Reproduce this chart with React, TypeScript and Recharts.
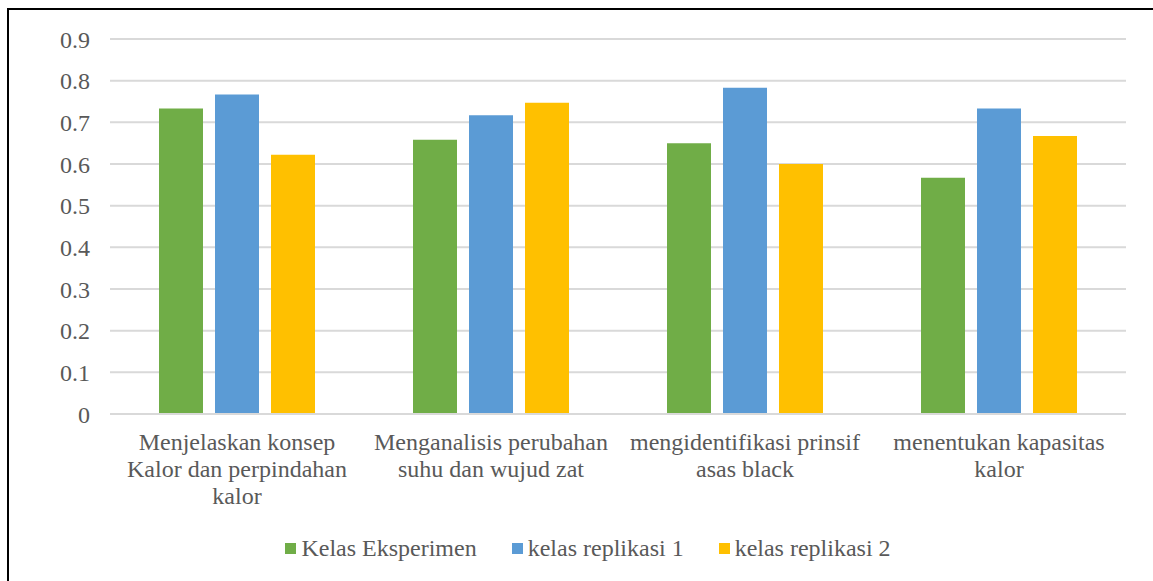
import React from 'react';
import { BarChart, Bar, XAxis, YAxis, CartesianGrid, Legend } from 'recharts';

// Indicator categories (line breaks mark where each label wraps)
const categories = [
  'Menjelaskan konsep\nKalor dan perpindahan\nkalor',
  'Menganalisis perubahan\nsuhu dan wujud zat',
  'mengidentifikasi prinsif\nasas black',
  'menentukan kapasitas\nkalor',
];

const seriesNames = ['Kelas Eksperimen', 'kelas replikasi 1', 'kelas replikasi 2'];

const kelasEksperimen = [0.733, 0.658, 0.65, 0.567];
const kelasReplikasi1 = [0.767, 0.717, 0.783, 0.733];
const kelasReplikasi2 = [0.622, 0.747, 0.6, 0.667];

const yTicks = [0, 0.1, 0.2, 0.3, 0.4, 0.5, 0.6, 0.7, 0.8, 0.9];

const colors = ['#70AD47', '#5B9BD5', '#FFC000'];

const data = categories.map((category, i) => ({
  category,
  eksperimen: kelasEksperimen[i],
  replikasi1: kelasReplikasi1[i],
  replikasi2: kelasReplikasi2[i],
}));

const FONT = '"Liberation Serif", "Times New Roman", serif';
const TEXT = '#595959';

function CategoryTick(props: any) {
  const { x, y, payload } = props;
  const lines = String(payload.value).split('\n');
  return (
    <g>
      {lines.map((line: string, i: number) => (
        <text
          key={i}
          x={x}
          y={y + 36 + i * 27}
          textAnchor="middle"
          fill={TEXT}
          fontFamily={FONT}
          fontSize={24}
        >
          {line}
        </text>
      ))}
    </g>
  );
}

function LegendContent(props: any) {
  const payload = props.payload || [];
  return (
    <div
      style={{
        display: 'flex',
        justifyContent: 'center',
        alignItems: 'center',
        height: 28,
        lineHeight: '28px',
        fontFamily: FONT,
        fontSize: 24,
        color: TEXT,
        whiteSpace: 'nowrap',
      }}
    >
      {payload.map((p: any, i: number) => (
        <div
          key={i}
          style={{ display: 'flex', alignItems: 'center', marginLeft: i ? 35 : 0 }}
        >
          <span
            style={{
              display: 'inline-block',
              width: 11,
              height: 11,
              background: p.color,
              marginRight: 5,
            }}
          />
          <span>{p.value}</span>
        </div>
      ))}
    </div>
  );
}

export default function App() {
  return (
    <div
      style={{
        position: 'absolute',
        left: 0,
        top: 0,
        width: 1153,
        height: 581,
        overflow: 'hidden',
        background: '#ffffff',
      }}
    >
      <div
        style={{
          position: 'absolute',
          left: 7,
          top: 8,
          width: 1200,
          height: 700,
          borderTop: '2px solid #000',
          borderLeft: '2px solid #000',
        }}
      />
      <div style={{ position: 'absolute', left: 0, top: 0 }}>
        <BarChart
          width={1172}
          height={581}
          data={data}
          margin={{ top: 39, right: 46, bottom: 19, left: 50 }}
          barCategoryGap={49}
          barGap={12}
        >
          <CartesianGrid vertical={false} stroke="#d9d9d9" strokeWidth={2} />
          <XAxis
            dataKey="category"
            height={120}
            axisLine={{ stroke: '#d9d9d9', strokeWidth: 2 }}
            tickLine={false}
            tickSize={0}
            tickMargin={0}
            interval={0}
            tick={<CategoryTick />}
          />
          <YAxis
            width={60}
            domain={[0, 0.9]}
            ticks={yTicks}
            interval={0}
            axisLine={false}
            tickLine={false}
            tickSize={0}
            tickMargin={20}
            tick={{ fill: TEXT, fontFamily: FONT, fontSize: 24 }}
          />
          <Legend verticalAlign="bottom" align="center" content={<LegendContent />} />
          <Bar dataKey="eksperimen" name={seriesNames[0]} fill={colors[0]} isAnimationActive={false} />
          <Bar dataKey="replikasi1" name={seriesNames[1]} fill={colors[1]} isAnimationActive={false} />
          <Bar dataKey="replikasi2" name={seriesNames[2]} fill={colors[2]} isAnimationActive={false} />
        </BarChart>
      </div>
    </div>
  );
}
